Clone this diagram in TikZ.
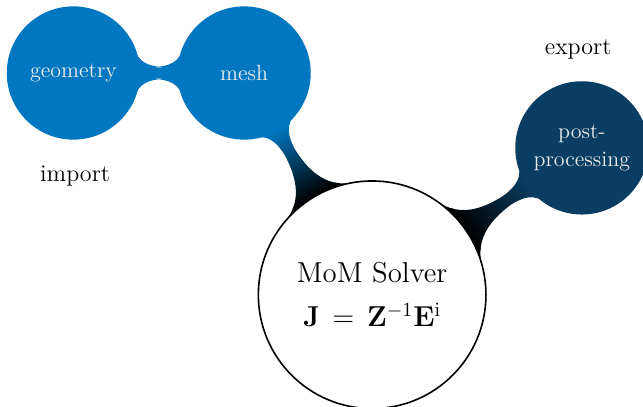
\documentclass[tikz,border=0pt]{standalone}
\usepackage{amsmath, amssymb}
\usepackage{xcolor}
\usepackage{tikz}
\usetikzlibrary{mindmap, positioning, backgrounds}
\definecolor{MM_BLUE}{HTML}{0077C0}
\definecolor{MM_NAVY}{HTML}{0A3D62}
\tikzset{
  solver/.style={
    concept, circle, concept color=black,
    minimum size=4cm, text width=3.6cm, inner sep=0pt,
    fill=white, draw=black, thick, text=black,
    text centered, align=center, font=\Large},
  stage/.style={
    concept, circle,
    minimum size=2.3cm, text width=2.1cm, inner sep=0pt,
    text=white!92!black, text centered, align=center,
    font=\fontsize{11}{13.6}\selectfont},
  side/.style={font=\large, text=black},
}
\begin{document}
\begin{tikzpicture}[mindmap]
  \useasboundingbox (-6.54,-1.97) rectangle (4.76,5.18);

  \node[solver] (solver)
    {MoM Solver\\[4pt] $\mathbf{J} = \mathbf{Z}^{-1}\mathbf{E}^{\mathrm{i}}$};

  \node[stage, concept color=MM_BLUE, fill=MM_BLUE] (mesh) at (120:4.5) {mesh};
  \node[stage, concept color=MM_BLUE, fill=MM_BLUE] (geometry)
    at ([xshift=-3cm]mesh.center) {geometry};
  \node[stage, concept color=MM_NAVY, fill=MM_NAVY] (post) at (35:4.5) {post-\\processing};

  \node[side] (import) at (-5.22,2.09) {import};
  \node[side] (export) at (3.62,4.31) {export};

  \begin{scope}[on background layer]
    \path (solver) to[circle connection bar switch color=from (black) to (MM_BLUE)] (mesh);
    \path (mesh) to[circle connection bar switch color=from (MM_BLUE) to (MM_BLUE)] (geometry);
    \path (solver) to[circle connection bar switch color=from (black) to (MM_NAVY)] (post);
  \end{scope}
\end{tikzpicture}
\end{document}
